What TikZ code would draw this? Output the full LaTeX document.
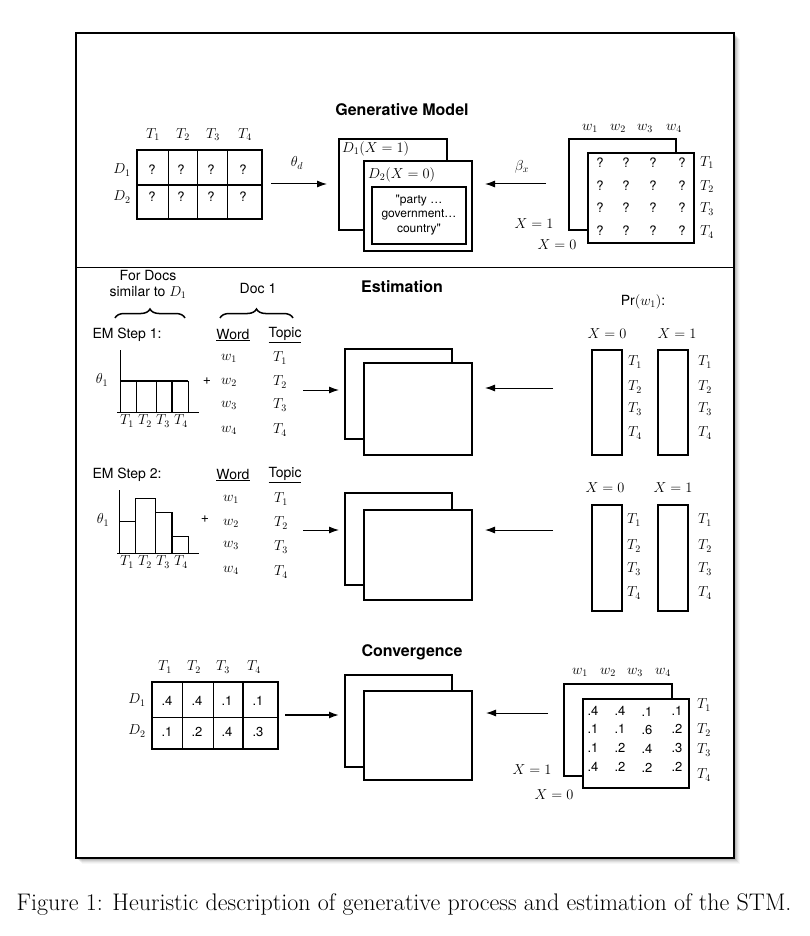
\documentclass[tikz,border=0pt]{standalone}
\usepackage{fontspec}
\newfontfamily\hv{TeX Gyre Heros}
\usetikzlibrary{arrows.meta,fit,decorations.pathreplacing}
\begin{document}
\begin{tikzpicture}[x=1pt,y=-1pt,
  mth/.style={font=\fontsize{14.4}{17}\selectfont, inner sep=0},
  sf/.style={font=\hv\fontsize{14}{16}\selectfont, inner sep=0},
  q/.style={font=\hv\fontsize{13}{15}\selectfont, inner sep=0},
  ttl/.style={font=\hv\bfseries\fontsize{16}{18}\selectfont, inner sep=0},
  box/.style={draw, line width=1.1pt, fill=white, inner sep=0, rectangle},
  bar/.style={draw, line width=1pt},
  arr/.style={line width=1pt, -{Latex[length=10pt,width=7pt]}},
  brc/.style={decorate, decoration={brace, amplitude=9pt}, line width=1.5pt}
]
\useasboundingbox (0,0) rectangle (810,936);
\fill[white] (0,0) rectangle (810,936);
% shadow
\foreach \i/\o in {1/0.12,2/0.10,3/0.08,4/0.06,5/0.04,6/0.03}
  \fill[black,opacity=\o] (76+\i,33+\i) rectangle (734+\i,858+\i);
\node[draw, line width=1.3pt, fill=white, inner sep=0, fit={(76,33)(734,858)}] (frame) {};
\draw[line width=1pt] (76,267) -- (734,267);

%================ Generative Model =================
\node[ttl] (gtitle) at (402,110) {Generative Model};
% left table
\node[box, fit={(137,150)(262,219)}] (gt) {};
\draw[line width=1pt] (137,185) -- (262,185);
\foreach \x in {168,197,227} \draw[line width=1pt] (\x,150) -- (\x,219);
\foreach \x/\t in {153/1,183/2,213/3,245/4} \node[mth] (gtT\t) at (\x,135) {$T_\t$};
\node[mth] (gtD1) at (122,170) {$D_1$};
\node[mth] (gtD2) at (122,197) {$D_2$};
\foreach \x [count=\c] in {152,181,211,243} {
  \node[q] (gq1\c) at (\x,170) {?};
  \node[q] (gq2\c) at (\x,197) {?};
}
% middle boxes
\node[box, fit={(339,139)(447,230)}] (gb1) {};
\node[box, fit={(364,161)(472,251)}] (gb2) {};
\node[box, fit={(372,187)(466,244)}] (gb3) {};
\node[mth, anchor=west] (gb1l) at (342,149) {$D_1(X=1)$};
\node[mth, anchor=west] (gb2l) at (368,175) {$D_2(X=0)$};
\node[font=\hv\fontsize{12}{14.5}\selectfont, align=center, inner sep=0] (gtext) at (419,215) {"party \ldots\\government\ldots\\country"};
% arrows
\coordinate (a1s) at (271,184);
\coordinate (a1e) at (327,184);
\draw[arr] (a1s) -- (a1e);
\node[mth] (thd) at (297,163) {$\theta_d$};
\coordinate (a2s) at (546,184);
\coordinate (a2e) at (485,184);
\draw[arr] (a2s) -- (a2e);
\node[mth] (btx) at (522,167) {$\beta_x$};
% right matrix
\node[box, fit={(569,139)(676,230)}] (gm1) {};
\node[box, line width=1.4pt, fit={(588,153)(694,243)}] (gm2) {};
\foreach \x [count=\c] in {590,618,645,674} \node[mth] (gmw\c) at (\x,128) {$w_\c$};
\foreach \y [count=\c] in {163,187,209,232} \node[mth] (gmT\c) at (707,\y) {$T_\c$};
\foreach \y [count=\r] in {163,186,208,231}
  \foreach \x [count=\c] in {600,626,653,682}
    \node[q] (gmq\r\c) at (\x,\y) {?};
\node[mth] (gmx1) at (534,224) {$X=1$};
\node[mth] (gmx0) at (557,245) {$X=0$};

%================ Estimation =================
\node[ttl] (etitle) at (402,287) {Estimation};
\node[sf, align=center] (fordocs) at (148,284) {For Docs\\similar to $D_1$};
\draw[brc] (115,318) -- (185,318);
\node[sf] (doc1) at (258,289) {Doc 1};
\draw[brc] (220,318) -- (293,318);
\node[sf] (pr) at (643,302) {Pr$(w_1)$:};

% EM step 1
\node[sf] (em1) at (127,335) {EM Step 1:};
\node[sf] (wd1) at (233,335) {\underline{Word}};
\node[sf] (tp1) at (285,335) {\underline{Topic}};
\draw[line width=1pt] (120,350) -- (120,413);
\draw[line width=1pt] (117,412) -- (199,412);
\foreach \a/\b in {120/136,136/156,156/172,172/188}
  \draw[bar] (\a,412) -- (\a,381) -- (\b,381) -- (\b,412);
\draw[line width=2pt] (120,381) -- (188,381);
\draw[line width=2pt] (172,381) -- (172,412);
\node[mth] (th1) at (102,380) {$\theta_1$};
\foreach \x [count=\c] in {127,145,163,181} \node[mth] (c1T\c) at (\x,421) {$T_\c$};
\node[sf] (plus1) at (207,381) {+};
\foreach \y [count=\c] in {358,382,405,430} {
  \node[mth] (e1w\c) at (229,\y) {$w_\c$};
  \node[mth] (e1t\c) at (280,\y) {$T_\c$};
}
\coordinate (e1as) at (303,390);
\coordinate (e1ae) at (339,390);
\draw[arr] (e1as) -- (e1ae);
\node[box, line width=1.3pt, fit={(345,349)(452,439)}] (eb1) {};
\node[box, line width=1.3pt, fit={(364,363)(472,455)}] (eb2) {};
\coordinate (e1bs) at (553,388);
\coordinate (e1be) at (485,388);
\draw[arr] (e1bs) -- (e1be);
\node[mth] (e1x0) at (607,334) {$X=0$};
\node[mth] (e1x1) at (677,334) {$X=1$};
\node[box, fit={(592,350)(622,455)}] (e1c0) {};
\node[box, fit={(658,350)(688,455)}] (e1c1) {};
\draw[line width=2pt] (658,455) -- (688,455);
\foreach \y [count=\c] in {362,387,409,433} {
  \node[mth] (e1p0\c) at (635,\y) {$T_\c$};
  \node[mth] (e1p1\c) at (705,\y) {$T_\c$};
}

% EM step 2
\node[sf] (em2) at (127,475) {EM Step 2:};
\node[sf] (wd2) at (233,475) {\underline{Word}};
\node[sf] (tp2) at (285,475) {\underline{Topic}};
\draw[line width=1pt] (119,490) -- (119,554);
\draw[line width=1pt] (117,553) -- (199,553);
\foreach \a/\b/\h in {119/135/521,135/155/498,155/172/512,172/188/536}
  \draw[bar] (\a,553) -- (\a,\h) -- (\b,\h) -- (\b,553);
\draw[line width=2pt] (172,512) -- (172,553);
\node[mth] (th2) at (103,520) {$\theta_1$};
\foreach \x [count=\c] in {127,145,163,181} \node[mth] (c2T\c) at (\x,562) {$T_\c$};
\node[sf] (plus2) at (205,519) {+};
\foreach \y/\z [count=\c] in {499/499,523/523,545/547,570/572} {
  \node[mth] (e2w\c) at (231,\y) {$w_\c$};
  \node[mth] (e2t\c) at (281,\z) {$T_\c$};
}
\coordinate (e2as) at (303,530);
\coordinate (e2ae) at (339,530);
\draw[arr] (e2as) -- (e2ae);
\node[box, fit={(345,493)(452,585)}] (fb1) {};
\node[box, fit={(364,510)(472,600)}] (fb2) {};
\coordinate (e2bs) at (553,530);
\coordinate (e2be) at (485,530);
\draw[arr] (e2bs) -- (e2be);
\node[mth] (e2x0) at (605,488) {$X=0$};
\node[mth] (e2x1) at (673,488) {$X=1$};
\node[box, fit={(592,505)(622,611)}] (e2c0) {};
\node[box, fit={(658,505)(688,611)}] (e2c1) {};
\draw[line width=2pt] (658,505) -- (688,505);
\foreach \y [count=\c] in {520,546,569,593} {
  \node[mth] (e2p0\c) at (634,\y) {$T_\c$};
  \node[mth] (e2p1\c) at (705,\y) {$T_\c$};
}

%================ Convergence =================
\node[ttl] (ctitle) at (412,652) {Convergence};
\node[box, line width=1.4pt, fit={(152,682)(278,749)}] (ct) {};
\draw[line width=1pt] (152,717) -- (278,717);
\foreach \x in {182,213} \draw[line width=1pt] (\x,682) -- (\x,749);
\draw[line width=2pt] (243,682) -- (243,749);
\foreach \x [count=\c] in {165,194,223,254} \node[mth] (ctT\c) at (\x,667) {$T_\c$};
\node[mth] (ctD1) at (137,700) {$D_1$};
\node[mth] (ctD2) at (137,731) {$D_2$};
\foreach \x/\a/\b [count=\c] in {167/.4/.1,197/.4/.2,227/.1/.4,258/.1/.3} {
  \node[q] (cv1\c) at (\x,701) {\a};
  \node[q] (cv2\c) at (\x,732) {\b};
}
\coordinate (c1s) at (285,715);
\coordinate (c1e) at (339,715);
\draw[arr, line width=1.6pt] (c1s) -- (c1e);
\node[box, fit={(345,675)(452,767)}] (cb1) {};
\node[box, line width=1.3pt, fit={(364,691)(472,780)}] (cb2) {};
\coordinate (c2s) at (548,713);
\coordinate (c2e) at (486,713);
\draw[arr] (c2s) -- (c2e);
\node[box, line width=1.3pt, fit={(564,684)(672,776)}] (cm1) {};
\node[box, fit={(583,699)(689,788)}] (cm2) {};
\foreach \x [count=\c] in {580,608,635,663} \node[mth] (cmw\c) at (\x,672) {$w_\c$};
\foreach \y [count=\c] in {705,730,750,775} \node[mth] (cmT\c) at (704,\y) {$T_\c$};
\foreach \y/\va/\vb/\vc/\vd [count=\r] in {711/.4/.4/.1/.1,729/.1/.1/.6/.2,748/.1/.2/.4/.3,767/.4/.2/.2/.2} {
  \node[q] (cmv\r a) at (593,\y) {\va};
  \node[q] (cmv\r b) at (620,\y) {\vb};
  \node[q] (cmv\r c) at (647,\y+1) {\vc};
  \node[q] (cmv\r d) at (677,\y) {\vd};
}
\node[mth] (cmx1) at (532,770) {$X=1$};
\node[mth] (cmx0) at (554,795) {$X=0$};

% caption
\node[font=\fontsize{24}{28}\selectfont, inner sep=0] (cap) at (404,905) {Figure 1: Heuristic description of generative process and estimation of the STM.};
\end{tikzpicture}
\end{document}
